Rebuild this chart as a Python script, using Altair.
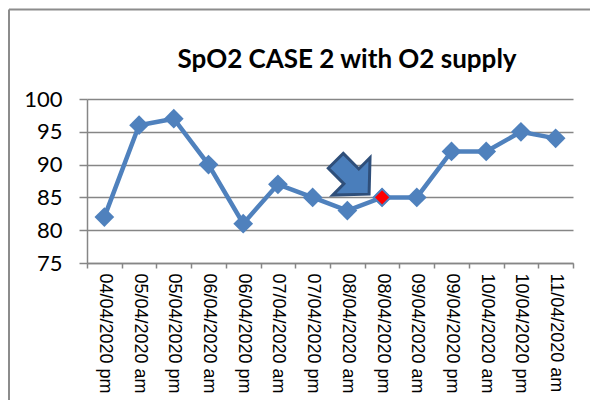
import altair as alt
import pandas as pd

dates = ["04/04/2020 pm", "05/04/2020 am", "05/04/2020 pm", "06/04/2020 am",
         "06/04/2020 pm", "07/04/2020 am", "07/04/2020 pm", "08/04/2020 am",
         "08/04/2020 pm", "09/04/2020 am", "09/04/2020 pm", "10/04/2020 am",
         "10/04/2020 pm", "11/04/2020 am"]
spo2 = [82, 96, 97, 90, 81, 87, 85, 83, 85, 85, 92, 92, 95, 94]
highlight_date = "08/04/2020 pm"
arrow_date = ["08/04/2020 am"]
arrow_value = [88.2]
y_ticks = [75, 80, 85, 90, 95, 100]
title_text = ["SpO2 CASE 2 with O2 supply"]

df = pd.DataFrame({"date": dates, "spo2": spo2})
df_arrow = pd.DataFrame({"date": arrow_date, "spo2": arrow_value})
df_title = pd.DataFrame({"t": title_text})

BLUE = "#4F81BD"
GRID = "#868686"
arrow_path = ("M-0.368,-1.047L0.339,-0.339L0.849,-0.849L0.806,0.806"
              "L-0.849,0.849L-0.339,0.339L-1.047,-0.368Z")

x_scale = alt.Scale(type="band", paddingInner=0, paddingOuter=0)
y_scale = alt.Scale(domain=[75, 100], nice=False, zero=False)

x_axis = alt.Axis(title=None, labelAngle=90, tickBand="extent",
                  tickSize=5, tickColor=GRID, tickWidth=1.5,
                  domainColor=GRID, domainWidth=1.5,
                  labelFont="Liberation Sans", labelFontSize=18,
                  labelColor="black", labelPadding=5)
y_axis = alt.Axis(title=None, values=y_ticks, grid=True,
                  gridColor=GRID, gridWidth=1.5,
                  domainColor=GRID, domainWidth=1.5,
                  tickColor=GRID, tickWidth=1.5, tickSize=8,
                  labelFont="Lato", labelFontSize=22,
                  labelColor="black", labelPadding=17,
                  labelOverlap=False)

x_enc = alt.X("date:N", sort=dates, scale=x_scale, axis=x_axis)
y_enc = alt.Y("spo2:Q", scale=y_scale, axis=y_axis)

base = alt.Chart(df).encode(x=x_enc, y=y_enc)

line = base.mark_line(color=BLUE, strokeWidth=4.5)
pts = base.mark_point(shape="diamond", filled=True, size=390, color=BLUE, opacity=1)
red = base.transform_filter(alt.datum.date == highlight_date).mark_point(
    shape="diamond", filled=True, size=270, fill="#FF0000", stroke=BLUE,
    strokeWidth=1.5, opacity=1)

arrow = alt.Chart(df_arrow).mark_point(
    shape=arrow_path, size=1936, filled=True, fill="#4A7EBB",
    stroke="#2F4F7A", strokeWidth=3, opacity=1, xOffset=4
).encode(x=x_enc, y=y_enc)

frame_top = alt.Chart(df_arrow).mark_rule(color="#8C8C8C", strokeWidth=2).encode(
    x=alt.value(-78), x2=alt.value(503), y=alt.value(-89.5))
frame_left = alt.Chart(df_arrow).mark_rule(color="#8C8C8C", strokeWidth=2).encode(
    x=alt.value(-78), y=alt.value(-89.5), y2=alt.value(301))

title = alt.Chart(df_title).mark_text(
    font="Lato", fontWeight="bold", fontSize=26, color="black",
    align="center", baseline="alphabetic"
).encode(text="t:N", x=alt.value(260), y=alt.value(-31))

chart = alt.layer(frame_top, frame_left, line, pts, red, arrow, title).properties(
    width=486, height=164, background="white",
    autosize=alt.AutoSizeParams(type="none"),
    padding={"left": 79, "top": 91, "right": 17, "bottom": 137},
).configure_view(stroke=None).configure_axisY(labelOverlap=False)

chart.save("out.html", embed_options={"renderer": "svg", "actions": False})
